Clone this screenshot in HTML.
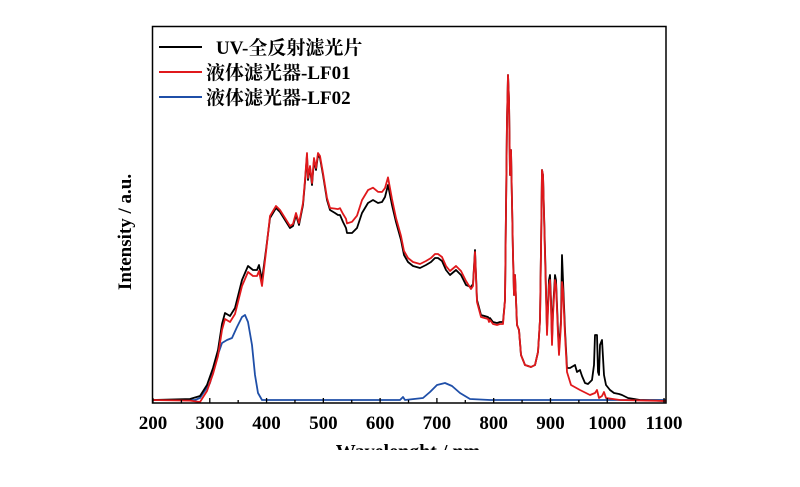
<!DOCTYPE html>
<html><head><meta charset="utf-8"><style>
html,body{margin:0;padding:0;background:#fff;width:800px;height:487px;overflow:hidden}
svg{display:block}
text{font-family:"Liberation Serif","Noto Serif CJK SC",serif;font-weight:bold;fill:#000}
</style></head><body>
<svg width="800" height="487" viewBox="0 0 800 487">
<defs><clipPath id="c"><rect x="0" y="0" width="800" height="450"/></clipPath><clipPath id="p"><rect x="152" y="26" width="514" height="377"/></clipPath></defs>
<g clip-path="url(#p)" fill="none" stroke-width="1.8" stroke-linejoin="round">
<path id="blue" stroke="#1f4fa8"/>
<path id="black" stroke="#000"/>
<path id="red" stroke="#e0191c"/>
</g>
<rect x="152.5" y="26.5" width="513.5" height="376.5" fill="none" stroke="#000" stroke-width="1.5"/>
<g id="ticks" stroke="#000" stroke-width="1.3"></g>
<g font-size="19" text-anchor="middle" id="xl"></g>
<g clip-path="url(#c)"><text x="408" y="458" font-size="20" text-anchor="middle">Wavelenght / nm</text></g>
<text x="0" y="0" font-size="19" text-anchor="middle" transform="translate(131,232) rotate(-90)">Intensity / a.u.</text>
<line x1="159" y1="47" x2="202" y2="47" stroke="#000" stroke-width="2"/>
<line x1="159" y1="72" x2="202" y2="72" stroke="#e0191c" stroke-width="2"/>
<line x1="159" y1="97" x2="202" y2="97" stroke="#1f4fa8" stroke-width="2"/>
<text x="216" y="54" font-size="19">UV-全反射滤光片</text>
<text x="206" y="79" font-size="19">液体滤光器-LF01</text>
<text x="206" y="104" font-size="19">液体滤光器-LF02</text>
</svg>
<script>
var B=[[152,400],[190,399],[200,396],[207,385],[213,368],[218,350],[222,324],[225,313],[230,316],[235,308],[242,280],[248,266],[253,270],[257,270],[259,265],[262,280],[266,250],[270,218],[276,208],[280,212],[285,220],[290,228],[293,226],[296,215],[299,225],[303,205],[305,182],[307,155],[308,180],[310,168],[312,185],[314,160],[316,170],[318,155],[320,158],[323,175],[327,200],[330,210],[335,213],[338,215],[340,215],[343,222],[346,228],[347,233],[352,233],[357,228],[362,213],[368,203],[373,200],[378,203],[382,202],[385,197],[388,185],[392,205],[396,222],[401,240],[404,255],[408,262],[413,266],[420,268],[426,265],[431,262],[435,258],[438,258],[442,261],[446,270],[450,275],[456,270],[461,275],[466,285],[471,287],[473,284],[475,250],[477,300],[481,315],[488,317],[489,320],[490,318],[493,322],[497,323],[500,322],[503,322],[505,300],[507,120],[508,75],[509,100],[510,175],[511,150],[513,255],[514,295],[515,275],[517,325],[519,330],[521,355],[525,365],[531,367],[535,365],[538,352],[540,320],[541,250],[542,170],[543,175],[545,250],[547,330],[549,280],[550,275],[551,300],[552,340],[553,310],[555,275],[556,280],[558,330],[559,350],[561,320],[562,255],[563,280],[565,330],[567,368],[570,368],[575,365],[577,372],[580,370],[582,376],[585,383],[588,384],[592,380],[594,365],[595,335],[597,335],[598,372],[599,375],[600,345],[602,340],[604,375],[606,385],[610,390],[614,393],[619,394],[622,395],[628,398],[640,400],[666,401]];
function d(x){if(x<200)return (x-152)/48*2;if(x<262)return 6;if(x<270)return 6-(x-262);if(x<330)return -2;if(x<400){var t=(x-330)/70;return -2-11*Math.sin(Math.PI*t);}if(x<470)return -4;if(x<505)return 2;if(x<545)return 0;return 5;}
var R=B.filter(function(p){return p[0]<562}).map(function(p){return [p[0],p[1]+d(p[0])]});
R=R.concat([[562,282],[563,290],[565,335],[567,372],[571,385],[580,390],[590,395],[595,393],[597,390],[599,398],[602,396],[604,392],[606,398],[620,400],[666,401]]);
var U=[[152,400],[195,400],[200,398],[210,383],[215,363],[222,343],[227,340],[232,338],[237,327],[242,317],[245,315],[248,322],[252,345],[255,375],[258,393],[262,400],[400,400],[403,397],[405,400],[423,398],[430,392],[437,385],[445,383],[452,386],[460,393],[470,399],[490,400],[666,400]];
function P(a){return 'M'+a.map(function(p){return p[0]+','+p[1].toFixed(1)}).join('L')}
document.getElementById('black').setAttribute('d',P(B));
document.getElementById('red').setAttribute('d',P(R));
document.getElementById('blue').setAttribute('d',P(U));
var g=document.getElementById('ticks'),xl=document.getElementById('xl'),s='',t='';
for(var w=200;w<=1100;w+=50){var x=153+(w-200)*0.5678;var L=(w%100==0)?5:3;s+='<line x1="'+x+'" y1="403" x2="'+x+'" y2="'+(403-L)+'"/>';if(w%100==0)t+='<text x="'+x+'" y="429">'+w+'</text>';}
g.innerHTML=s;xl.innerHTML=t;
</script>
</body></html>
